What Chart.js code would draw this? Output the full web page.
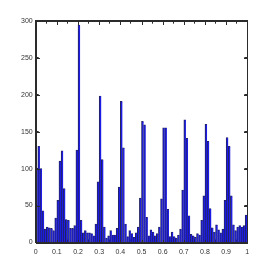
<!DOCTYPE html>
<html>
<head>
<meta charset="utf-8">
<script src="https://cdn.jsdelivr.net/npm/chart.js@4"></script>
<style>
  html, body { margin: 0; padding: 0; background: #fff; }
  #wrap { width: 273px; height: 273px; }
</style>
</head>
<body>
<div id="wrap"><canvas id="hist" width="273" height="273"></canvas></div>
<script>
// cuentas por bin (100 bins entre 0 y 1)
const counts = [
  100, 130, 100, 43, 18, 21, 20, 19, 16, 33,
  57, 110, 124, 73, 31, 30, 19, 19, 23, 125,
  294, 30, 13, 16, 13, 13, 12, 9, 25, 82,
  198, 112, 21, 6, 9, 16, 10, 10, 19, 75,
  191, 128, 25, 8, 16, 12, 7, 13, 21, 60,
  164, 159, 34, 9, 17, 14, 9, 12, 21, 59,
  155, 155, 45, 8, 14, 8, 6, 10, 18, 71,
  166, 141, 36, 11, 9, 7, 12, 10, 30, 63,
  160, 137, 46, 20, 14, 24, 17, 13, 18, 57,
  142, 130, 63, 24, 16, 21, 23, 21, 23, 37
];
const binCenters = counts.map((_, i) => (i + 0.5) / counts.length);
const xTicks = [0, 0.1, 0.2, 0.3, 0.4, 0.5, 0.6, 0.7, 0.8, 0.9, 1];
const yTicks = [0, 50, 100, 150, 200, 250, 300];

const lineCol = '#2b2b2b';
const tickFont = { family: 'Liberation Sans', size: 7 };

// marco + marcas hacia dentro (estilo matlab)
function drawFrame(chart) {
  const c = chart.ctx;
  const a = chart.chartArea;
  if (!a) return;
  const sx = chart.scales.x, sy = chart.scales.y;
  const L = Math.round(a.left), R = Math.round(a.right);
  const T = Math.round(a.top), B = Math.round(a.bottom);
  c.save();
  c.fillStyle = lineCol;
  c.fillRect(L, T, R - L + 1, 1);
  c.fillRect(L, B, R - L + 1, 1);
  c.fillRect(L, T, 1, B - T + 1);
  c.fillRect(R, T, 1, B - T + 1);
  xTicks.forEach(v => {
    const px = Math.round(sx.getPixelForValue(v));
    c.fillRect(px, B - 3, 1, 3);
    c.fillRect(px, T + 1, 1, 3);
  });
  yTicks.forEach(v => {
    const py = Math.round(sy.getPixelForValue(v));
    c.fillRect(L + 1, py, 3, 1);
    c.fillRect(R - 3, py, 3, 1);
  });
  c.restore();
}

const frameTicks = {
  id: 'frameTicks',
  afterDraw(chart) { try { drawFrame(chart); } catch (e) {} }
};

function frameAxis(extra) {
  return Object.assign({
    z: 1,
    grid: { display: true, drawOnChartArea: false, drawTicks: true, tickLength: -3, color: lineCol, lineWidth: 1 },
    border: { display: true, color: lineCol, width: 1 }
  }, extra);
}

const ctx = document.getElementById('hist').getContext('2d');
const chart = new Chart(ctx, {
  type: 'bar',
  data: {
    datasets: [{
      data: counts.map((c, i) => ({ x: binCenters[i], y: c })),
      xAxisID: 'x',
      yAxisID: 'y',
      backgroundColor: '#1c1ce6',
      borderColor: '#23235e',
      borderWidth: { left: 1, top: 0.8 },
      borderSkipped: false,
      barPercentage: 1,
      categoryPercentage: 1
    }]
  },
  options: {
    responsive: false,
    animation: false,
    layout: { padding: { left: 0, right: 25.7, top: 20.7, bottom: 0 } },
    plugins: { legend: { display: false }, tooltip: { enabled: false } },
    scales: {
      x: frameAxis({
        type: 'linear', position: 'bottom',
        min: 0, max: 1, offset: false,
        afterFit: s => { s.height = 30.5; },
        afterBuildTicks: s => { s.ticks = xTicks.map(v => ({ value: v })); },
        ticks: { padding: 8, maxRotation: 0, color: '#333', font: tickFont, callback: v => String(v) }
      }),
      x2: frameAxis({
        type: 'linear', position: 'top',
        min: 0, max: 1, offset: false,
        afterFit: s => { s.height = 0; },
        afterBuildTicks: s => { s.ticks = xTicks.map(v => ({ value: v })); },
        ticks: { display: false }
      }),
      y: frameAxis({
        type: 'linear', position: 'left',
        min: 0, max: 300,
        afterFit: s => { s.width = 35.7; },
        afterBuildTicks: s => { s.ticks = yTicks.map(v => ({ value: v })); },
        ticks: { padding: 6, color: '#333', font: tickFont }
      }),
      y2: frameAxis({
        type: 'linear', position: 'right',
        min: 0, max: 300,
        afterFit: s => { s.width = 0; },
        afterBuildTicks: s => { s.ticks = yTicks.map(v => ({ value: v })); },
        ticks: { display: false }
      })
    }
  },
  plugins: [frameTicks]
});

// por si acaso, repetir el marco cuando el grafico ya esta pintado
setTimeout(() => { try { drawFrame(chart); } catch (e) {} }, 0);
</script>
</body>
</html>
